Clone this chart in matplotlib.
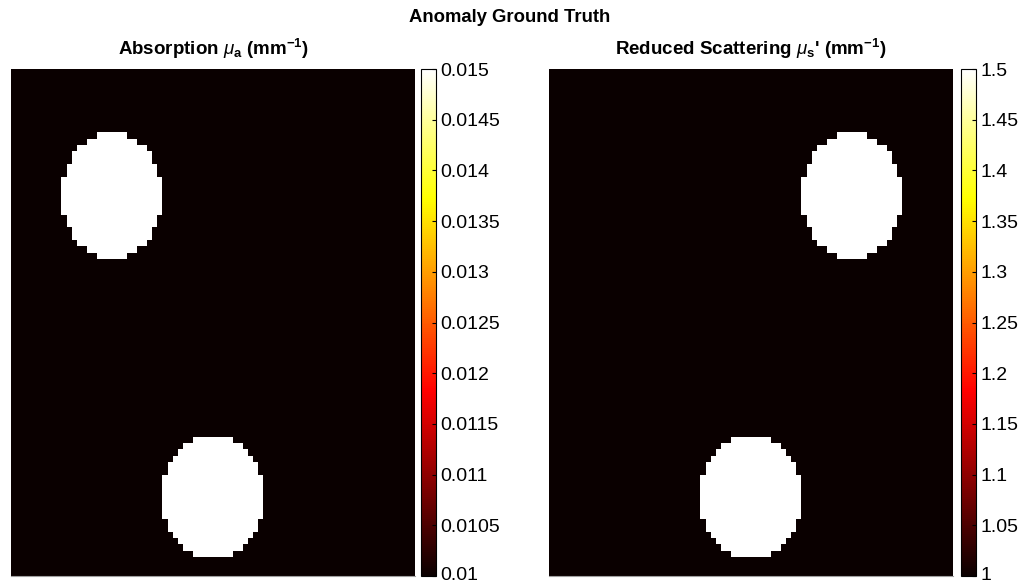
import numpy as np
import matplotlib.pyplot as plt
from matplotlib.ticker import FixedLocator, FormatStrFormatter
from matplotlib.transforms import ScaledTranslation

plt.rcParams['font.family'] = ['Liberation Sans', 'DejaVu Sans']
plt.rcParams['mathtext.fontset'] = 'custom'
plt.rcParams['mathtext.rm'] = 'Liberation Sans'
plt.rcParams['mathtext.it'] = 'Liberation Sans:italic'
plt.rcParams['mathtext.bf'] = 'Liberation Sans:bold'

# grid and anomaly layout (grid units, 80 x 80 cells)
n_cells = 80
radius = 10.0

mua_bg, mua_anom = 0.01, 0.015
mua_cx = [20.0, 40.0]
mua_cy = [20.0, 67.5]

mus_bg, mus_anom = 1.0, 1.5
mus_cx = [60.0, 40.0]
mus_cy = [20.0, 67.5]

mua_ticks = [0.01, 0.0105, 0.011, 0.0115, 0.012, 0.0125, 0.013, 0.0135, 0.014, 0.0145, 0.015]
mus_ticks = [1, 1.05, 1.1, 1.15, 1.2, 1.25, 1.3, 1.35, 1.4, 1.45, 1.5]


def anomaly_map(bg, val, cxs, cys):
    c = np.arange(n_cells) + 0.5
    X, Y = np.meshgrid(c, c)
    m = np.full((n_cells, n_cells), bg)
    for cx, cy in zip(cxs, cys):
        m[(X - cx) ** 2 + (Y - cy) ** 2 < radius ** 2] = val
    return m


fig = plt.figure(figsize=(10.2, 5.86), dpi=100)
W, H = 1020, 586

panels = [
    (anomaly_map(mua_bg, mua_anom, mua_cx, mua_cy), mua_bg, mua_anom, mua_ticks,
     r'Absorption $\mu_{\mathbf{a}}$ (mm$^{\mathbf{-1}}$)', 11, 421),
    (anomaly_map(mus_bg, mus_anom, mus_cx, mus_cy), mus_bg, mus_anom, mus_ticks,
     r"Reduced Scattering $\mu_{\mathbf{s}}$' (mm$^{\mathbf{-1}}$)", 549, 961),
]

top, bot = 69, 576
for img, vmin, vmax, ticks, title, x0, cbx in panels:
    ax = fig.add_axes([x0 / W, (H - bot) / H, 404 / W, (bot - top) / H])
    im = ax.imshow(img, cmap='hot', vmin=vmin, vmax=vmax, aspect='auto',
                   interpolation='nearest', extent=[0, n_cells, n_cells, 0])
    ax.set_xticks([])
    ax.set_yticks([])
    for s in ['top', 'left', 'right']:
        ax.spines[s].set_visible(False)
    ax.spines['bottom'].set_color('#a0a0a0')
    ax.spines['bottom'].set_linewidth(0.8)
    ax.set_title(title, fontsize=13.5, fontweight='bold', pad=10)

    cax = fig.add_axes([cbx / W, (H - bot) / H, 15 / W, (bot - top) / H])
    cb = fig.colorbar(im, cax=cax)
    cb.locator = FixedLocator(ticks)
    cb.formatter = FormatStrFormatter('%g')
    cb.update_ticks()
    cb.outline.set_linewidth(0.8)
    cax.tick_params(direction='in', length=3, width=0.8, labelsize=14, pad=3)
    # keep the lowest label inside the figure
    fig.canvas.draw()
    lbl = cax.get_yticklabels()[0]
    lbl.set_transform(lbl.get_transform() + ScaledTranslation(0, 2 / 72, fig.dpi_scale_trans))

fig.suptitle('Anomaly Ground Truth', fontsize=13.3, fontweight='bold', y=0.985)

fig.savefig('out.png', dpi=100)
